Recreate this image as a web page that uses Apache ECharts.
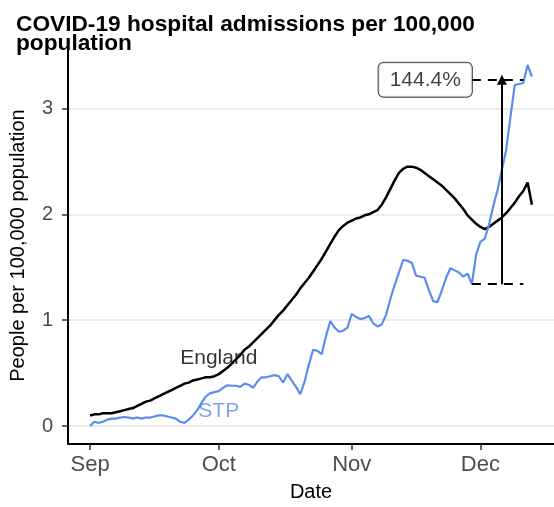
<!DOCTYPE html>
<html><head><meta charset="utf-8">
<script src="https://cdn.jsdelivr.net/npm/echarts@6/dist/echarts.min.js"></script>
<style>html,body{margin:0;padding:0;background:#fff;} #c{width:554px;height:507px;}</style>
</head><body><div id="c"></div>
<script>
// Days are counted from 1 Sep 2020 (index 0).
const monthTickDays = [0, 30, 61, 91];
const monthTickLabels = ['Sep', 'Oct', 'Nov', 'Dec'];
const yTickValues = [0, 1, 2, 3];

const englandValues = [
  0.10,0.11,0.11,0.12,0.12,0.12,0.13,0.14,0.15,0.16,
  0.17,0.19,0.21,0.23,0.24,0.26,0.28,0.30,0.32,0.34,
  0.36,0.38,0.40,0.41,0.43,0.44,0.45,0.46,0.46,0.47,
  0.49,0.52,0.55,0.59,0.63,0.67,0.72,0.75,0.79,0.83,
  0.87,0.91,0.95,1.00,1.05,1.09,1.14,1.19,1.24,1.30,
  1.35,1.40,1.46,1.52,1.58,1.65,1.72,1.79,1.85,1.89,
  1.92,1.94,1.96,1.97,1.99,2.00,2.02,2.04,2.09,2.16,
  2.24,2.32,2.39,2.43,2.45,2.45,2.44,2.42,2.39,2.36,
  2.33,2.30,2.27,2.23,2.19,2.15,2.10,2.05,1.99,1.95,
  1.91,1.88,1.86,1.88,1.91,1.94,1.97,2.01,2.06,2.11,
  2.17,2.22,2.30,2.09
];
const stpValues = [
  0.00,0.04,0.03,0.04,0.06,0.07,0.07,0.08,0.085,0.08,
  0.07,0.08,0.07,0.08,0.08,0.09,0.10,0.10,0.09,0.08,
  0.07,0.04,0.03,0.06,0.10,0.15,0.22,0.28,0.31,0.32,
  0.33,0.36,0.385,0.38,0.38,0.37,0.40,0.39,0.36,0.42,
  0.46,0.46,0.47,0.48,0.47,0.41,0.49,0.43,0.37,0.30,
  0.42,0.58,0.72,0.71,0.68,0.85,0.99,0.93,0.89,0.90,
  0.93,1.06,1.03,1.01,1.02,1.04,0.97,0.94,0.96,1.05,
  1.20,1.33,1.45,1.57,1.56,1.54,1.42,1.41,1.40,1.28,
  1.18,1.17,1.28,1.40,1.49,1.47,1.45,1.41,1.44,1.34,
  1.62,1.74,1.77,1.90,2.08,2.23,2.42,2.61,2.92,3.22,
  3.23,3.24,3.41,3.30
];

const seriesNames = ['England', 'STP'];
const seriesColors = ['#000000', '#5B8DEF'];
const nameLabelDay = 30;
const nameLabelValues = [0.64, 0.14];

const changeBaseDay = 89;
const changeEndDay = 101;
const changeArrowDay = 96;
const changeBaseValue = 1.34;
const changePeakValue = 3.27;
const changeLabel = '144.4%';

const FONT = "'Liberation Sans', Arial, sans-serif";
const toPairs = arr => arr.map((v, i) => [i, v]);

const chart = echarts.init(document.getElementById('c'), null, {renderer: 'canvas'});
chart.setOption({
  animation: false,
  backgroundColor: '#ffffff',
  title: {
    text: 'COVID-19 hospital admissions per 100,000\npopulation',
    left: 11, top: 10,
    textStyle: {fontFamily: FONT, fontSize: 22.7, fontWeight: 'bold', color: '#000', lineHeight: 19}
  },
  grid: {left: 66, right: 0, top: 47, bottom: 62, containLabel: false},
  xAxis: {
    type: 'value', min: -5.15, max: 108.15,
    name: 'Date', nameLocation: 'middle', nameGap: 38,
    nameTextStyle: {fontFamily: FONT, fontSize: 20, color: '#000'},
    axisLine: {show: true, onZero: false, lineStyle: {color: '#000', width: 2}},
    axisTick: {show: true, length: 6, customValues: monthTickDays, lineStyle: {color: '#333', width: 1.5}},
    axisLabel: {customValues: monthTickDays, margin: 10, fontFamily: FONT, fontSize: 22, color: '#4d4d4d',
      formatter: v => monthTickLabels[monthTickDays.indexOf(Math.round(v))] || ''},
    splitLine: {show: false}
  },
  yAxis: {
    type: 'value', min: -0.17, max: 3.58,
    name: 'People per 100,000 population', nameLocation: 'middle', nameGap: 40, nameRotate: 90,
    nameTextStyle: {fontFamily: FONT, fontSize: 20, color: '#000'},
    axisLine: {show: true, onZero: false, lineStyle: {color: '#000', width: 2}},
    axisTick: {show: true, length: 6, customValues: yTickValues, lineStyle: {color: '#333', width: 1.5}},
    axisLabel: {customValues: yTickValues, margin: 15, fontFamily: FONT, fontSize: 20, color: '#4d4d4d'},
    splitLine: {show: true, lineStyle: {color: '#e6e6e6', width: 1.5}}
  },
  series: [
    {
      name: seriesNames[0], type: 'line', data: toPairs(englandValues), showSymbol: false, symbol: 'none',
      lineStyle: {color: seriesColors[0], width: 2.5}, z: 3, silent: true
    },
    {
      name: seriesNames[1], type: 'line', data: toPairs(stpValues), showSymbol: false, symbol: 'none',
      lineStyle: {color: seriesColors[1], width: 2.2}, z: 4, silent: true
    },
    {
      name: 'labels', type: 'scatter', symbolSize: 0, silent: true, z: 5,
      data: seriesNames.map((n, i) => ({
        value: [nameLabelDay, nameLabelValues[i]],
        label: {show: true, position: 'inside', formatter: n, fontFamily: FONT, fontSize: 21, color: seriesColors[i]}
      }))
    },
    {
      name: 'dashes', type: 'line', data: [], silent: true, z: 6,
      markLine: {
        silent: true, symbol: 'none', label: {show: false},
        lineStyle: {color: '#000', width: 2, type: [9, 7]},
        data: [
          [{coord: [changeBaseDay, changeBaseValue]}, {coord: [changeEndDay, changeBaseValue]}],
          [{coord: [changeBaseDay, changePeakValue]}, {coord: [changeEndDay, changePeakValue]}]
        ]
      }
    },
    {
      name: 'arrow', type: 'line', data: [], silent: true, z: 6,
      markLine: {
        silent: true, symbol: ['none', 'triangle'], symbolSize: [10, 10],
        label: {show: false},
        lineStyle: {color: '#000', width: 2, type: 'solid'},
        data: [
          [{coord: [changeArrowDay, changeBaseValue]}, {coord: [changeArrowDay, changePeakValue]}]
        ]
      }
    },
    {
      name: 'changeLabel', type: 'scatter', symbolSize: 0, silent: true, z: 7,
      data: [{
        value: [changeBaseDay, changePeakValue],
        label: {show: true, position: 'left', distance: 0, formatter: changeLabel,
          fontFamily: FONT, fontSize: 21, color: '#111', backgroundColor: '#fff',
          borderColor: '#111', borderWidth: 1, borderRadius: 5, padding: [7, 11, 6, 11]}
      }]
    }
  ]
});
</script>
</body></html>
